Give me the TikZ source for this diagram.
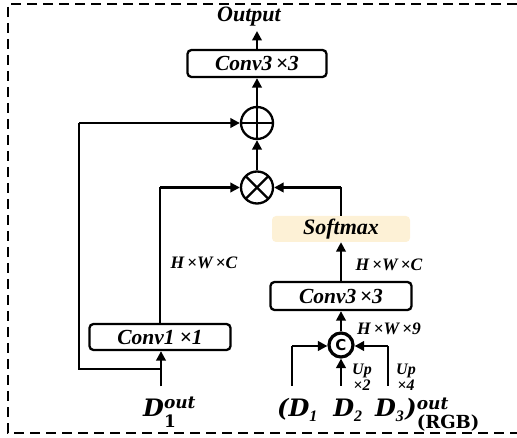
\documentclass[tikz,border=0pt]{standalone}
\usepackage{fontspec}
\setmainfont{Liberation Serif}
\newfontfamily\dfont{DejaVu Serif}
\newfontfamily\csans{DejaVu Sans}
\usetikzlibrary{arrows.meta}
\definecolor{softfill}{HTML}{FDF1D6}
\begin{document}
\begin{tikzpicture}[x=1pt,y=-1pt,
  conn/.style={line width=2.3pt,-{Triangle[length=9.5pt,width=9.5pt]}},
  plain/.style={line width=2.3pt},
  boxst/.style={draw,line width=2.3pt,rounded corners=4pt,minimum width=#1,minimum height=27pt,inner sep=0pt,font=\fontsize{21.5}{21.5}\selectfont\bfseries\itshape},
  opst/.style={circle,draw,line width=2.3pt,minimum size=32pt,inner sep=0pt},
  lab/.style={font=\fontsize{17.5}{17.5}\selectfont\bfseries\itshape,inner sep=0pt},
  uplab/.style={font=\fontsize{16}{16}\selectfont\bfseries\itshape,inner sep=0pt,align=center},
  border/.style={line width=2.3pt,dash pattern=on 10pt off 6pt}
]
\useasboundingbox (0,0) rectangle (517,438);
\draw[border] (517,4) -- (8,4) -- (8,433) -- (517,433);

% top branch
\node[font=\fontsize{22}{22}\selectfont\bfseries\itshape,inner sep=0pt] (out) at (249,17) {Output};
\node[boxst=139pt] (c3top) at (257,63.5) {Conv3\,×3};
\node[opst] (plus) at (257,123) {};
\node[opst] (times) at (257,187.5) {};
\draw[plain] (plus.center) +(0,-16) -- +(0,16);
\draw[plain] (plus.center) +(-16,0) -- +(16,0);
\draw[plain] (times.center) +(-11.3,-11.3) -- +(11.3,11.3);
\draw[plain] (times.center) +(-11.3,11.3) -- +(11.3,-11.3);

\coordinate (outtip) at (257,31);
\draw[conn] (c3top.north) -- (outtip);
\draw[conn] (plus.north) -- (c3top.south);
\draw[conn] (times.north) -- (plus.south);

% left branch
\node[boxst=141pt,minimum height=26pt] (c1) at (160,337) {Conv1\hspace{5pt}×1\hspace{1pt}};
\node[inner sep=0pt,anchor=base west] (d1) at (143,417)
  {\dfont\bfseries\itshape\fontsize{24}{24}\selectfont D\rlap{\raisebox{9pt}{\fontsize{17}{17}\selectfont out}}\raisebox{-11pt}{\upshape\fontsize{17}{17}\selectfont 1}};
\coordinate (d1top) at (161,386.5);
\coordinate (jn) at (161,369);
\coordinate (lcorner) at (79,369);
\coordinate (ltop) at (79,123);
\coordinate (c1up) at (160,187.5);
\draw[conn] (d1top) -- (c1.south -| d1top);
\draw[plain] (jn) -- (lcorner) -- (ltop);
\draw[conn] (ltop) -- (plus.west);
\draw[plain] (c1.north) -- (c1up);
\draw[conn] (c1up) -- (times.west);
\node[lab] (hwc1) at (204,263) {H\,×W\,×C};

% right branch
\node[fill=softfill,rounded corners=4pt,minimum width=138pt,minimum height=26pt,inner sep=0pt,font=\fontsize{22}{22}\selectfont\bfseries\itshape] (soft) at (341,229) {Softmax};
\node[boxst=141pt,minimum height=28pt] (c3b) at (341,296) {Conv3\,×3};
\node[circle,draw,line width=3.2pt,minimum size=24pt,inner sep=0pt,font=\csans\bfseries\fontsize{15}{15}\selectfont] (cat) at (341,345) {C};
\coordinate (rup) at (341,187.5);
\draw[plain] (soft.north) -- (rup);
\draw[conn] (rup) -- (times.east);
\draw[conn] (c3b.north) -- (soft.south);
\draw[conn] (cat.north) -- (c3b.south);
\node[lab] (hwc2) at (389,265) {H\,×W\,×C};
\node[lab] (hw9) at (389,329) {H\,×W\,×9};

\coordinate (in1) at (292,386);
\coordinate (in1c) at (292,346);
\coordinate (in2) at (341,386);
\coordinate (in3) at (388,386);
\coordinate (in3c) at (388,346);
\draw[plain] (in1) -- (in1c);
\draw[conn] (in1c) -- (cat.west |- in1c);
\draw[conn] (in2) -- (cat.south);
\draw[plain] (in3) -- (in3c);
\draw[conn] (in3c) -- (cat.east |- in3c);
\node[uplab] (up2) at (362,377) {Up\\×2};
\node[uplab] (up4) at (406,377) {Up\\×4};

\node[inner sep=0pt,anchor=base west] (dall) at (277,417)
  {\dfont\bfseries\itshape\fontsize{24}{24}\selectfont (D\raisebox{-5pt}{\rmfamily\fontsize{16}{16}\selectfont 1}\hspace{16pt}D\raisebox{-5pt}{\rmfamily\fontsize{16}{16}\selectfont 2}\hspace{13pt}D\raisebox{-5pt}{\rmfamily\fontsize{16}{16}\selectfont 3}\hspace{1.5pt})\rlap{\raisebox{7pt}{\fontsize{17}{17}\selectfont out}}\raisebox{-12pt}{\upshape\fontsize{18}{18}\selectfont (RGB)}};
\end{tikzpicture}
\end{document}
